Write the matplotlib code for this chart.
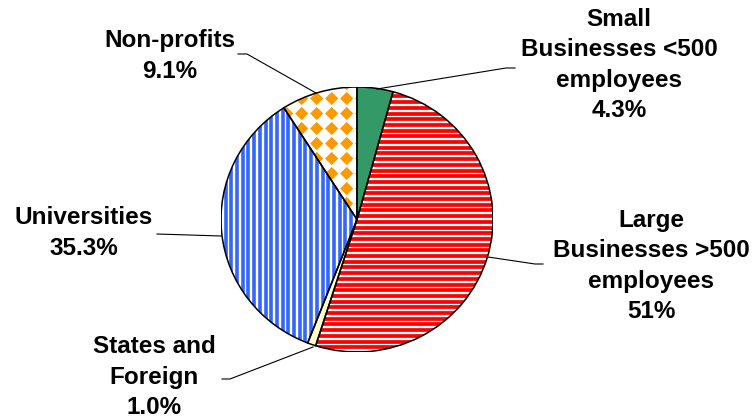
import numpy as np
import matplotlib
matplotlib.use("Agg")
import matplotlib.pyplot as plt
from matplotlib.patches import Wedge
from matplotlib.lines import Line2D
from matplotlib.collections import LineCollection, PolyCollection

# ---- data ----
categories = ["Small\nBusinesses <500\nemployees", "Large\nBusinesses >500\nemployees",
              "States and\nForeign", "Universities", "Non-profits"]
shares = [4.3, 51, 1.0, 35.3, 9.1]
share_labels = ["4.3%", "51%", "1.0%", "35.3%", "9.1%"]

W, H = 754, 419
fig = plt.figure(figsize=(W / 100, H / 100), dpi=100)
fig.patch.set_facecolor("white")

# pie box in pixels (slightly squashed vertically like the original)
cx, cy, rx, ry = 357, 219.5, 136, 132.5
ax = fig.add_axes([(cx - rx) / W, (H - cy - ry) / H, 2 * rx / W, 2 * ry / H])

base_colors = ["#339966", "white", "#FFFFCC", "white", "white"]
wedges, _ = ax.pie(shares, startangle=90, counterclock=False, colors=base_colors,
                   wedgeprops=dict(edgecolor="none", linewidth=0))
ax.set_aspect("auto")
ax.set_xlim(-1, 1)
ax.set_ylim(-1, 1)
ax.axis("off")

# pixel -> data helpers for the pattern fills
px_x = 1.0 / rx
px_y = 1.0 / ry

# red horizontal stripes
red_w = wedges[1]
ys = np.arange(-1.05, 1.05, 5.7 * px_y)
segs = [[(-1.1, y), (1.1, y)] for y in ys]
lc = LineCollection(segs, colors="#FF0000", linewidths=2.7, zorder=3)
ax.add_collection(lc)
lc.set_clip_path(red_w)

# blue vertical stripes
blue_w = wedges[3]
xs = np.arange(-1.05, 1.05, 5.7 * px_x)
segs = [[(x, -1.1), (x, 1.1)] for x in xs]
lc = LineCollection(segs, colors="#3366FF", linewidths=2.6, zorder=3)
ax.add_collection(lc)
lc.set_clip_path(blue_w)

# orange diamonds (tip-to-tip checkerboard)
org_w = wedges[4]
step, h = 15.0, 6.6
polys = []
for i in range(-10, 10):
    for j in range(-10, 10):
        x0 = (i * step - 10.3) * px_x
        y0 = (j * step + 1.0) * px_y
        polys.append([(x0 - h * px_x, y0), (x0, y0 + h * px_y),
                      (x0 + h * px_x, y0), (x0, y0 - h * px_y)])
pc = PolyCollection(polys, facecolors="#FF9900", edgecolors="none", zorder=3)
ax.add_collection(pc)
pc.set_clip_path(org_w)

# outlines on top
for w in wedges:
    ax.add_patch(Wedge(w.center, w.r, w.theta1, w.theta2, fill=False,
                       edgecolor="black", linewidth=1.1, zorder=4))

# ---- labels and leader lines (pixel layout) ----
font = dict(family=["Liberation Sans", "DejaVu Sans"], weight="bold", size=17.5)
label_pos = [(619, 65), (651, 266), (154, 377), (84, 233), (169.5, 56)]
leaders = [
    [(377, 89), (506, 68), (515, 68)],
    [(488, 257), (535, 264), (543, 264)],
    [(313, 347), (230, 379), (222, 379)],
    [(221, 236), (157, 234)],
    [(316, 93), (247, 54), (238, 54)],
]

for cat, lab, (lx, ly), pts_l in zip(categories, share_labels, label_pos, leaders):
    fig.text(lx / W, 1 - ly / H, cat + "\n" + lab, ha="center", va="center",
             linespacing=1.42, **font)
    xx = [p[0] / W for p in pts_l]
    yy = [1 - p[1] / H for p in pts_l]
    fig.add_artist(Line2D(xx, yy, transform=fig.transFigure, color="black",
                          linewidth=0.8))

fig.savefig("out.png", dpi=100)
